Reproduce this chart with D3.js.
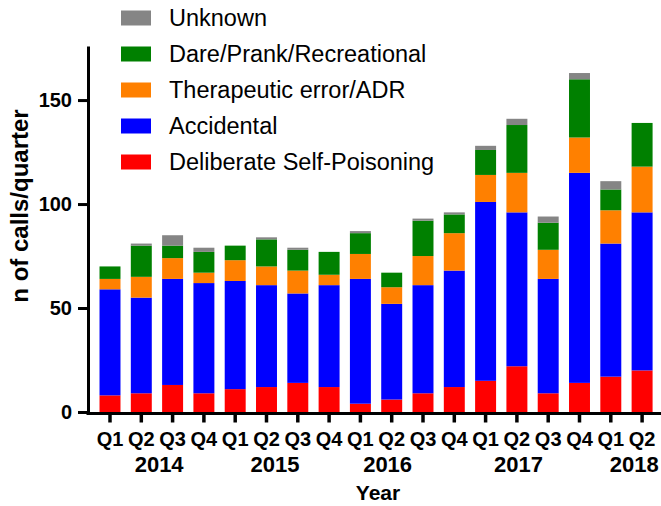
<!DOCTYPE html>
<html lang="en">
<head>
	<meta charset="UTF-8">
	<title>Calls per quarter</title>
	<script src="https://d3js.org/d3.v7.min.js"></script>
	<style>
		body {margin: 0; background: #fff;}
		text {font-family: "Liberation Sans", Arial, sans-serif;}
	</style>
</head>
<body>
	<div id="myDiv"></div>

<script>
	// categories
	let quarters = ["Q1","Q2","Q3","Q4","Q1","Q2","Q3","Q4","Q1","Q2","Q3","Q4","Q1","Q2","Q3","Q4","Q1","Q2"];
	let years = ["2014","2015","2016","2017","2018"];

	// series values
	let selfPoisoning = [8, 9, 13, 9, 11, 12, 14, 12, 4, 6, 9, 12, 15, 22, 9, 14, 17, 20];
	let accidental    = [51, 46, 51, 53, 52, 49, 43, 49, 60, 46, 52, 56, 86, 74, 55, 101, 64, 76];
	let therapeutic   = [5, 10, 10, 5, 10, 9, 11, 5, 12, 8, 14, 18, 13, 19, 14, 17, 16, 22];
	let dare          = [6, 15, 6, 10, 7, 13, 10, 11, 10, 7, 17, 9, 12, 23, 13, 28, 10, 21];
	let unknown       = [0, 1, 5, 2, 0, 1, 1, 0, 1, 0, 1, 1, 2, 3, 3, 3, 4, 0];

	let seriesNames = ["Deliberate Self-Poisoning", "Accidental", "Therapeutic error/ADR", "Dare/Prank/Recreational", "Unknown"];
	let seriesColors = ["#ff0000", "#0000ff", "#ff8000", "#008000", "#858585"];
	let yTicks = [0, 50, 100, 150];

	// where the year labels sit, in quarter units
	let yearLabelAt = [1.57, 5.27, 8.87, 13.05, 16.75];

	let table = quarters.map(function(q, i){
		return {
			i: i,
			"Deliberate Self-Poisoning": selfPoisoning[i],
			"Accidental": accidental[i],
			"Therapeutic error/ADR": therapeutic[i],
			"Dare/Prank/Recreational": dare[i],
			"Unknown": unknown[i]
		};
	});

	let svg = d3.select("#myDiv").append("svg")
		.attr("width", 661)
		.attr("height", 506);

	let x = d3.scaleBand()
		.domain(d3.range(quarters.length))
		.range([94.35, 657.75])
		.paddingInner(0.33)
		.paddingOuter(0.165);

	let y = d3.scaleLinear()
		.domain([0, 176])
		.range([412, 46]);

	let stacked = d3.stack().keys(seriesNames)(table);

	//bars
	svg.append("g").selectAll("g")
		.data(stacked)
		.join("g")
			.attr("fill", function(d, i){ return seriesColors[i]; })
		.selectAll("rect")
		.data(function(d){ return d; })
		.join("rect")
			.attr("x", function(d){ return x(d.data.i); })
			.attr("width", x.bandwidth())
			.attr("y", function(d){ return y(d[1]); })
			.attr("height", function(d){ return y(d[0]) - y(d[1]); });

	//y axis
	let yAxis = svg.append("g")
		.attr("transform", "translate(88,0)")
		.call(d3.axisLeft(y).tickValues(yTicks).tickSize(10).tickSizeOuter(0).tickPadding(6));
	yAxis.select(".domain").attr("stroke-width", 3);
	yAxis.selectAll(".tick line").attr("stroke-width", 3);
	yAxis.selectAll(".tick text")
		.attr("font-size", "20px")
		.attr("font-weight", "bold")
		.attr("fill", "#000");

	//x axis
	let xAxis = svg.append("g")
		.attr("transform", "translate(0,413.5)")
		.call(d3.axisBottom(x).tickSize(9).tickSizeOuter(0).tickPadding(9)
			.tickFormat(function(i){ return quarters[i]; }));
	xAxis.select(".domain").remove();
	xAxis.append("line")
		.attr("x1", 86.5).attr("x2", 661)
		.attr("stroke", "#000").attr("stroke-width", 3);
	xAxis.selectAll(".tick line").attr("stroke-width", 3.5);
	xAxis.selectAll(".tick text")
		.attr("font-size", "20px")
		.attr("font-weight", "bold")
		.attr("fill", "#000");

	//year labels
	let stepW = x.step();
	svg.append("g").selectAll("text")
		.data(years)
		.join("text")
			.attr("x", function(d, i){ return x(0) + x.bandwidth() / 2 + yearLabelAt[i] * stepW; })
			.attr("y", 472)
			.attr("text-anchor", "middle")
			.attr("font-size", "22px")
			.attr("font-weight", "bold")
			.text(function(d){ return d; });

	//axis titles
	svg.append("text")
		.attr("x", 378).attr("y", 500)
		.attr("text-anchor", "middle")
		.attr("font-size", "21px")
		.attr("font-weight", "bold")
		.text("Year");

	svg.append("text")
		.attr("transform", "translate(28,206) rotate(-90)")
		.attr("text-anchor", "middle")
		.attr("font-size", "24px")
		.attr("font-weight", "bold")
		.text("n of calls/quarter");

	//legend, top row is Unknown
	let legend = svg.append("g").selectAll("g")
		.data(seriesNames.slice().reverse())
		.join("g")
			.attr("transform", function(d, i){ return "translate(121," + (18 + i * 36) + ")"; });

	legend.append("rect")
		.attr("x", 0).attr("y", -7.5)
		.attr("width", 30).attr("height", 15)
		.attr("fill", function(d){ return seriesColors[seriesNames.indexOf(d)]; });

	legend.append("text")
		.attr("x", 48).attr("y", 8)
		.attr("font-size", "23.5px")
		.attr("fill", "#000")
		.text(function(d){ return d; });
</script>
</body>
</html>
